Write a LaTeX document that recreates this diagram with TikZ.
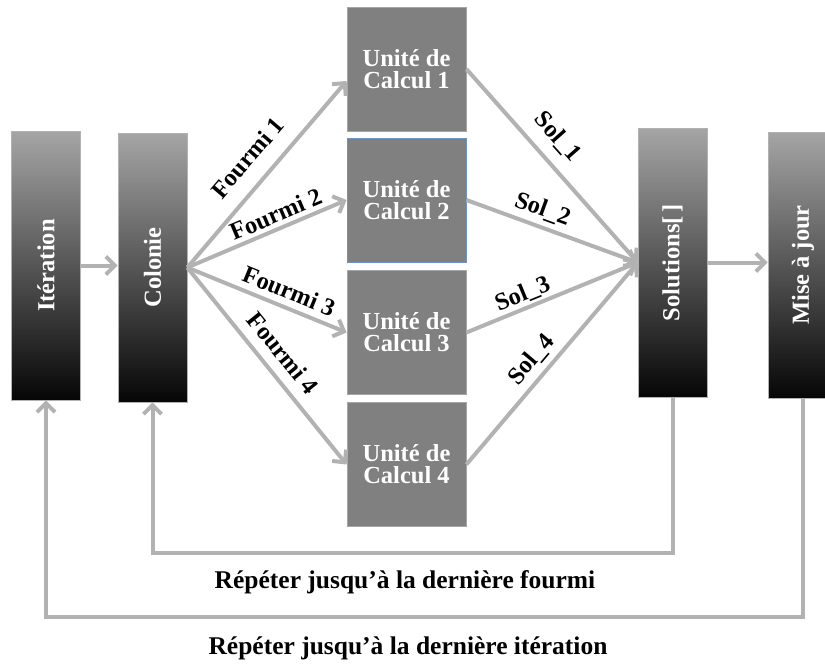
\documentclass[tikz,border=0pt]{standalone}
\usepackage{fontspec}
\setmainfont{Liberation Serif}
\usetikzlibrary{arrows.meta}
\definecolor{arrgray}{RGB}{178,178,178}
\definecolor{unitgray}{RGB}{128,128,128}
\definecolor{dtop}{RGB}{165,165,165}
\definecolor{dbot}{RGB}{6,6,6}
\definecolor{selblue}{RGB}{112,146,190}

\begin{document}
\begin{tikzpicture}[x=1pt,y=-1pt,
  darkbox/.style={draw=gray!60, line width=0.6pt, top color=dtop, bottom color=dbot,
    minimum width=69pt, minimum height=269pt, inner sep=0pt},
  unitbox/.style={draw=gray!70, line width=0.8pt, fill=unitgray, minimum width=119pt,
    minimum height=124pt, text=white, align=center, inner sep=0pt,
    font=\bfseries\fontsize{24.5}{22}\selectfont},
  vtext/.style={rotate=90, text=white, inner sep=0pt, font=\bfseries\fontsize{24.5}{29}\selectfont},
  lab/.style={font=\bfseries\fontsize{24.5}{26}\selectfont, sloped, inner sep=0pt},
  looptext/.style={font=\bfseries\fontsize{25.5}{27}\selectfont},
  arr/.style={draw=arrgray, line width=4pt, -{Straight Barb[length=9pt,width=18pt]}}]
\clip (0,0) rectangle (825,664);

\node[darkbox] (it) at (46,265.5) {};
\node[vtext] (itl) at (it) {Itération};
\node[darkbox] (col) at (152.5,267.5) {};
\node[vtext] (coll) at (col) {Colonie};
\node[darkbox] (sol) at (672.5,262.5) {};
\node[vtext] (soll) at (sol) {Solutions[\,]};
\node[darkbox, minimum width=70pt, minimum height=266pt] (maj) at (803,265) {};
\node[vtext] (majl) at (maj) {Mise à jour};

\node[unitbox] (u1) at (406.5,69) {Unité de\\Calcul 1};
\node[unitbox, draw=selblue] (u2) at (406.5,200) {Unité de\\Calcul 2};
\node[unitbox] (u3) at (406.5,332.5) {Unité de\\Calcul 3};
\node[unitbox] (u4) at (406.5,464.5) {Unité de\\Calcul 4};

\draw[arr] (it.east) -- (it.east -| col.west);
\draw[arr] (col.east) -- node[lab, above=15pt, pos=.5] {Fourmi 1} ([yshift=-12pt]u1.west);
\draw[arr] (col.east) -- node[lab, above=4pt, pos=.59] {Fourmi 2} (u2.west);
\draw[arr] (col.east) -- node[lab, above=6pt, pos=.6] {Fourmi 3} (u3.west);
\draw[arr] (col.east) -- node[lab, above=10pt, pos=.5] {Fourmi 4} (u4.west);

\draw[arr] (u1.east) -- node[lab, above=11pt, pos=.43] {Sol\_1} (sol.west);
\draw[arr] (u2.east) -- node[lab, above=5pt, pos=.41] {Sol\_2} (sol.west);
\draw[arr] (u3.east) -- node[lab, above=2pt, pos=.36] {Sol\_3} (sol.west);
\draw[arr] (u4.east) -- node[lab, above=6pt, pos=.46] {Sol\_4} (sol.west);
\draw[arr] (sol.east) -- (sol.east -| maj.west);

\coordinate (l1) at (400,553);
\coordinate (l2) at (400,617);
\draw[arr] (sol.south) |- (l1) -| (col.south);
\draw[arr] (maj.south) |- (l2) -| (it.south);
\node[looptext] (t1) at (405,582) {Répéter jusqu’à la dernière fourmi};
\node[looptext] (t2) at (408,648) {Répéter jusqu’à la dernière itération};
\end{tikzpicture}
\end{document}
